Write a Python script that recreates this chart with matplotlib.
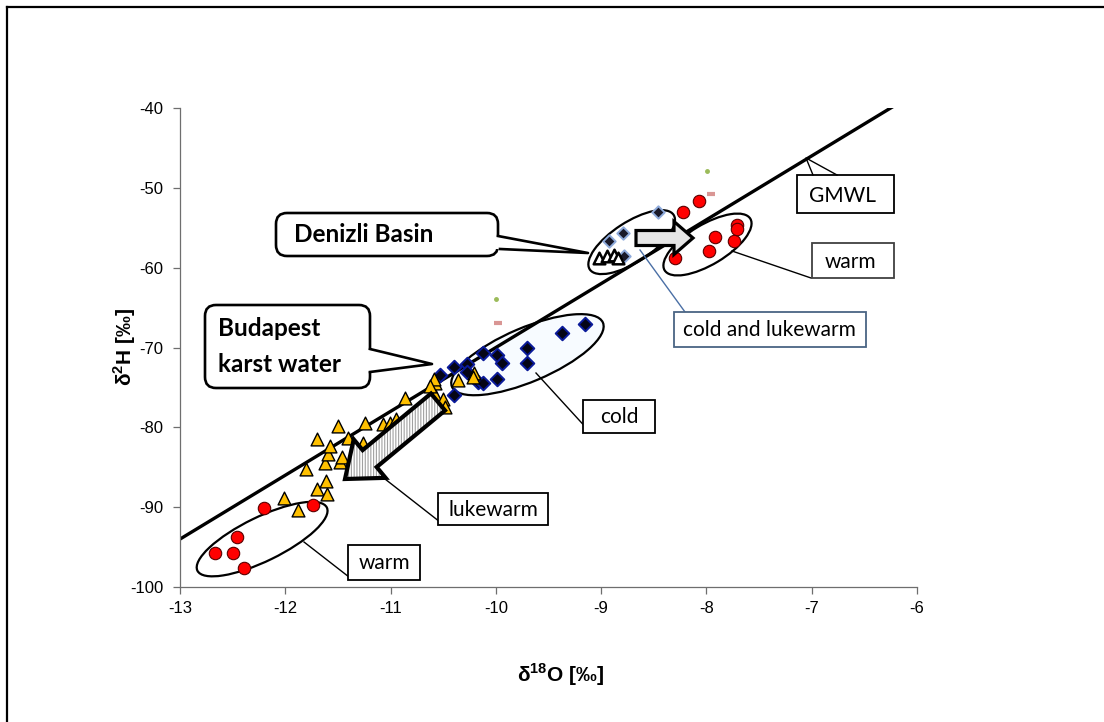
import matplotlib
matplotlib.use("Agg")
import matplotlib.pyplot as plt
import matplotlib.transforms as mtransforms
from matplotlib.patches import Ellipse, FancyBboxPatch, FancyArrow, Polygon, Rectangle
from matplotlib.lines import Line2D
import numpy as np

plt.rcParams['axes.unicode_minus'] = False
plt.rcParams['mathtext.fontset'] = 'custom'
plt.rcParams['mathtext.rm'] = 'Liberation Sans'
plt.rcParams['mathtext.bf'] = 'Liberation Sans:bold'
plt.rcParams['hatch.linewidth'] = 0.8

# ---------------- data ----------------
# Budapest: lukewarm (triangles)
bud_luke_x = [-12.01, -11.88, -11.70, -11.60, -11.61, -11.80, -11.62, -11.48, -11.46, -11.59,
              -11.58, -11.70, -11.40, -11.26, -11.50, -11.24, -11.07, -11.01, -10.95, -10.86,
              -10.58, -10.58, -10.50, -10.48, -10.59, -10.63, -10.36, -10.21, -10.22]
bud_luke_y = [-88.8, -90.4, -87.7, -88.3, -86.7, -85.2, -84.5, -84.3, -83.7, -83.4,
              -82.3, -81.5, -81.3, -81.9, -79.8, -79.5, -79.6, -79.4, -79.0, -76.3,
              -75.9, -74.5, -76.4, -77.4, -74.0, -74.8, -74.1, -73.2, -73.7]
# Budapest: cold (diamonds)
bud_cold_x = [-9.15, -9.37, -9.70, -9.70, -9.99, -9.94, -9.99, -10.12, -10.27, -10.40,
              -10.53, -10.17, -10.12, -10.40, -10.27]
bud_cold_y = [-67.1, -68.2, -70.0, -71.9, -71.0, -71.9, -74.0, -70.7, -72.1, -72.5,
              -73.5, -74.3, -74.5, -75.9, -73.1]
# Budapest: warm (circles)
bud_warm_x = [-12.20, -11.74, -12.46, -12.67, -12.50, -12.39]
bud_warm_y = [-90.1, -89.7, -93.7, -95.8, -95.7, -97.6]
# Denizli: cold (diamonds), lukewarm (open triangles), warm (circles)
den_cold_x = [-8.46, -8.79, -8.93, -8.78]
den_cold_y = [-53.0, -55.7, -56.6, -58.6]
den_luke_x = [-9.02, -8.94, -8.88, -8.84]
den_luke_y = [-58.8, -58.6, -58.4, -58.8]
den_warm_x = [-8.22, -8.07, -8.30, -7.98, -7.92, -7.74, -7.71, -7.71]
den_warm_y = [-53.0, -51.7, -58.8, -57.9, -56.1, -56.6, -54.6, -55.2]
# small extra points
green_x = [-7.99, -10.00]
green_y = [-47.9, -63.9]
pink_x = [-7.96, -9.98]
pink_y = [-50.8, -66.9]
# Global meteoric water line  d2H = 8*d18O + 10
gmwl_x = np.array([-13.0, -6.22])
gmwl_y = 8 * gmwl_x + 10

x_ticks = [-13, -12, -11, -10, -9, -8, -7, -6]
y_ticks = [-100, -90, -80, -70, -60, -50, -40]

# ---------------- figure ----------------
W, H = 1104, 722
fig = plt.figure(figsize=(W / 100, H / 100), dpi=100)
ax = fig.add_axes([180 / W, 1 - 587 / H, 737 / W, 479 / H])
ax.set_xlim(-13, -6)
ax.set_ylim(-100, -40)
ax.set_xticks(x_ticks)
ax.set_yticks(y_ticks)
ax.set_xticklabels([str(v) for v in x_ticks])
ax.set_yticklabels([str(v) for v in y_ticks])
for s in ['top', 'right']:
    ax.spines[s].set_visible(False)
for s in ['left', 'bottom']:
    ax.spines[s].set_color('#6e6e6e')
    ax.spines[s].set_linewidth(0.9)
ax.tick_params(direction='out', length=5, width=0.9, color='#6e6e6e', labelsize=12)
ax.tick_params(axis='x', pad=5)
ax.tick_params(axis='y', pad=7)
for lab in ax.get_xticklabels() + ax.get_yticklabels():
    lab.set_fontfamily('Liberation Sans')

ax.set_xlabel(r'δ$^{\mathbf{18}}$O [‰]', fontsize=15, fontweight='bold',
              fontfamily='Liberation Sans', va='center')
ax.xaxis.set_label_coords((561 - 180) / 737, (587 - 675) / 479)
ax.set_ylabel(r'δ$^{\mathbf{2}}$H [‰]', fontsize=15, fontweight='bold',
              fontfamily='Liberation Sans', va='center')
ax.yaxis.set_label_coords((125 - 180) / 737, (587 - 347) / 479)

ident = mtransforms.IdentityTransform()


def P(x, y):
    return (x, H - y)


def ell(cx, cy, w, h, ang, fc='none', z=2):
    tr = mtransforms.Affine2D() + mtransforms.ScaledTranslation(cx, cy, ax.transData)
    e = Ellipse((0, 0), w, h, angle=ang, transform=tr, facecolor=fc,
                edgecolor='black', lw=1.6, zorder=z, clip_on=False)
    ax.add_artist(e)


# ellipses
ell(-9.70, -70.9, 164, 54, 23, fc='#f7fbff', z=1.5)
ell(-12.22, -94.0, 144, 44, 26)
ell(-8.71, -56.8, 100, 40, 33)
ell(-7.99, -57.1, 100, 40, 31)

# GMWL
ax.plot(gmwl_x, gmwl_y, color='black', lw=2.4, zorder=2.5, solid_capstyle='butt')

# points
ax.scatter(bud_cold_x, bud_cold_y, marker='D', s=48, facecolor='#050515',
           edgecolor='#0a1a9a', linewidths=1.4, zorder=3)
ax.scatter(bud_luke_x, bud_luke_y, marker='^', s=85, facecolor='#FFC000',
           edgecolor='black', linewidths=1.0, zorder=4)
ax.scatter(bud_warm_x, bud_warm_y, marker='o', s=80, facecolor='#FF0000',
           edgecolor='#5a0000', linewidths=0.8, zorder=4)
ax.scatter(den_cold_x, den_cold_y, marker='D', s=40, facecolor='#1a1a2a',
           edgecolor='#8eaadb', linewidths=1.4, zorder=3)
ax.scatter(den_luke_x, den_luke_y, marker='^', s=70, facecolor='white',
           edgecolor='black', linewidths=1.8, zorder=4)
ax.scatter(den_warm_x, den_warm_y, marker='o', s=80, facecolor='#FF0000',
           edgecolor='#5a0000', linewidths=0.8, zorder=4)
ax.plot(green_x, green_y, ls='none', marker='o', ms=2.5, color='#9bbb59', zorder=3)
ax.plot(pink_x, pink_y, ls='none', marker='_', ms=6, mew=3, color='#d99694', zorder=3)

# ---------------- annotations (pixel space) ----------------
TXT = dict(fontfamily='Lato', fontsize=15, color='black')
BTXT = dict(fontfamily='Lato', fontsize=17.5, fontweight='bold', color='black')


def line(pts, color='black', lw=1.0, z=6):
    xs = [p[0] for p in pts]
    ys = [H - p[1] for p in pts]
    fig.add_artist(Line2D(xs, ys, transform=ident, color=color, lw=lw, zorder=z))


def rect_box(x0, y0, x1, y1, ec='black', lw=1.3):
    fig.add_artist(Rectangle((x0, H - y1), x1 - x0, y1 - y0, transform=ident,
                             facecolor='white', edgecolor=ec, lw=lw, zorder=6))


def callout(x0, y0, x1, y1, base1, base2, tip):
    fig.add_artist(FancyBboxPatch((x0, H - y1), x1 - x0, y1 - y0,
                                  boxstyle='round,pad=0,rounding_size=11',
                                  transform=ident, facecolor='white',
                                  edgecolor='black', lw=1.9, zorder=6))
    fill = [P(base1[0] - 4, base1[1]), P(*tip), P(base2[0] - 4, base2[1])]
    fig.add_artist(Polygon(fill, closed=True, transform=ident, facecolor='white',
                           edgecolor='none', zorder=6.1))
    line([base1, tip, base2], lw=1.9, z=6.2)


# Denizli Basin callout
callout(276, 213, 498, 256, (498, 236), (500, 249), (588, 253))
fig.text(294, H - 235, 'Denizli Basin', transform=ident, va='center', ha='left',
         zorder=7, **BTXT)

# Budapest callout
callout(205, 305, 370, 388, (370, 349), (370, 372), (432, 364))
fig.text(218, H - 328, 'Budapest', transform=ident, va='center', ha='left',
         zorder=7, **BTXT)
fig.text(218, H - 364, 'karst water', transform=ident, va='center', ha='left',
         zorder=7, **BTXT)

# GMWL label
rect_box(797, 175, 894, 213)
line([(813, 175), (806, 158), (837, 175)], lw=1.0)
fig.text(843, H - 196, 'GMWL', transform=ident, va='center', ha='center', zorder=7, **TXT)

# warm (Denizli)
line([(732, 251), (811, 278)], lw=1.0)
rect_box(812, 243, 894, 278, ec='#404040')
fig.text(850, H - 262, 'warm', transform=ident, va='center', ha='center', zorder=7, **TXT)

# cold and lukewarm (Denizli)
line([(640, 250), (685, 312)], color='#4a6fa5', lw=1.0)
rect_box(674, 312, 866, 347, ec='#4a6484')
fig.text(769, H - 330, 'cold and lukewarm', transform=ident, va='center', ha='center',
         zorder=7, **TXT)

# cold (Budapest)
line([(536, 373), (590, 432)], lw=1.0)
rect_box(583, 400, 655, 433)
fig.text(619, H - 417, 'cold', transform=ident, va='center', ha='center', zorder=7, **TXT)

# lukewarm (Budapest)
line([(385, 479), (440, 522)], lw=1.0)
rect_box(438, 493, 548, 525)
fig.text(493, H - 510, 'lukewarm', transform=ident, va='center', ha='center', zorder=7, **TXT)

# warm (Budapest)
line([(304, 542), (349, 577)], lw=1.0)
rect_box(348, 545, 420, 580)
fig.text(384, H - 563, 'warm', transform=ident, va='center', ha='center', zorder=7, **TXT)

# Denizli block arrow (pointing right)
fig.add_artist(FancyArrow(636, H - 238, 57, 0, width=15, head_width=33, head_length=19,
                          length_includes_head=True, transform=ident,
                          facecolor='#e6e6e6', edgecolor='black', lw=2.3, zorder=5))

# Budapest hatched block arrow (pointing down-left)
ax0, ay0 = P(438, 402)
ax1, ay1 = P(345, 479)
kw = dict(width=22, head_width=50, head_length=32, length_includes_head=True,
          transform=ident)
fig.add_artist(FancyArrow(ax0, ay0, ax1 - ax0, ay1 - ay0, facecolor='white',
                          edgecolor='#a0a0a0', hatch='||||||', lw=0, zorder=5, **kw))
fig.add_artist(FancyArrow(ax0, ay0, ax1 - ax0, ay1 - ay0, facecolor='none',
                          edgecolor='black', lw=3.0, zorder=5.1, **kw))

# page border
fig.add_artist(Line2D([7, W + 5], [H - 7, H - 7], transform=ident, color='black', lw=1.6))
fig.add_artist(Line2D([7, 7], [H - 7, -5], transform=ident, color='black', lw=1.6))

fig.savefig('out.png', dpi=100)
